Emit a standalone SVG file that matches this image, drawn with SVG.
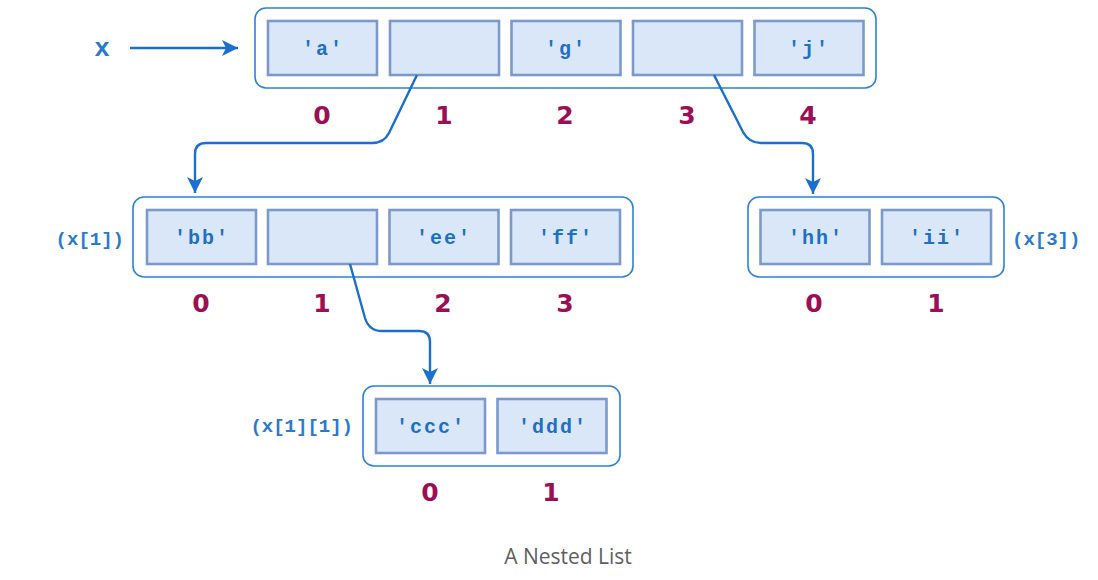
<svg xmlns="http://www.w3.org/2000/svg" width="1098" height="580" viewBox="0 0 1098 580">
<defs>
<style>
.box{fill:#ffffff;stroke:#2b83d8;stroke-width:1.6}
.cell{fill:#dae7f9;stroke:#7b9acb;stroke-width:2.6}
.val{font-family:"Liberation Mono","Courier New",monospace;font-weight:bold;font-size:20px;fill:#1f6fc2;text-anchor:middle;letter-spacing:2px}
.idx{font-family:"DejaVu Sans",Verdana,sans-serif;font-weight:bold;font-size:25px;fill:#9c0f55;text-anchor:middle}
.lbl{font-family:"Liberation Mono","Courier New",monospace;font-weight:bold;font-size:19px;fill:#2a7ad0}
.conn{fill:none;stroke:#1b70cf;stroke-width:2.4}
.cap{font-family:"Open Sans","Noto Sans",sans-serif;font-size:21px;fill:#5f6062;text-anchor:middle}
</style>
<marker id="ah" markerUnits="userSpaceOnUse" markerWidth="20" markerHeight="20" refX="16" refY="8" orient="auto">
<path d="M0,0 L16,8 L0,16 L4,8 Z" fill="#1b70cf"/>
</marker>
</defs>
<rect width="1098" height="580" fill="#ffffff"/>

<g id="var-x">
<text x="102" y="56" class="lbl" style="font-size:26px" text-anchor="middle">x</text>
</g>

<g id="list-x">
<rect class="box" x="255" y="8" width="621" height="80" rx="11"/>
<rect class="cell" x="268" y="21" width="109" height="54"/>
<rect class="cell" x="390" y="21" width="109" height="54"/>
<rect class="cell" x="511.5" y="21" width="109" height="54"/>
<rect class="cell" x="633" y="21" width="109" height="54"/>
<rect class="cell" x="754.5" y="21" width="109" height="54"/>
<text class="val" x="323" y="55">'a'</text>
<text class="val" x="566" y="55">'g'</text>
<text class="val" x="809" y="55">'j'</text>
<text class="idx" x="322" y="124">0</text>
<text class="idx" x="444" y="124">1</text>
<text class="idx" x="565" y="124">2</text>
<text class="idx" x="687" y="124">3</text>
<text class="idx" x="808" y="124">4</text>
</g>

<g id="list-x1">
<text class="lbl" x="124" y="245" text-anchor="end">(x[1])</text>
<rect class="box" x="133" y="197" width="500" height="80" rx="11"/>
<rect class="cell" x="147" y="210" width="109" height="54"/>
<rect class="cell" x="268" y="210" width="109" height="54"/>
<rect class="cell" x="389.5" y="210" width="109" height="54"/>
<rect class="cell" x="511" y="210" width="109" height="54"/>
<text class="val" x="202" y="244">'bb'</text>
<text class="val" x="444" y="244">'ee'</text>
<text class="val" x="566" y="244">'ff'</text>
<text class="idx" x="201" y="312">0</text>
<text class="idx" x="322" y="312">1</text>
<text class="idx" x="443" y="312">2</text>
<text class="idx" x="565" y="312">3</text>
</g>

<g id="list-x3">
<rect class="box" x="748" y="197" width="256" height="80" rx="11"/>
<rect class="cell" x="760.5" y="210" width="109" height="54"/>
<rect class="cell" x="882" y="210" width="109" height="54"/>
<text class="val" x="816" y="244">'hh'</text>
<text class="val" x="937" y="244">'ii'</text>
<text class="lbl" x="1012" y="245">(x[3])</text>
<text class="idx" x="814" y="312">0</text>
<text class="idx" x="936" y="312">1</text>
</g>

<g id="list-x11">
<text class="lbl" x="353" y="432" text-anchor="end">(x[1][1])</text>
<rect class="box" x="363" y="386" width="257" height="80" rx="11"/>
<rect class="cell" x="376" y="399" width="109" height="54"/>
<rect class="cell" x="497.5" y="399" width="109" height="54"/>
<text class="val" x="431" y="433">'ccc'</text>
<text class="val" x="553" y="433">'ddd'</text>
<text class="idx" x="430" y="501">0</text>
<text class="idx" x="551" y="501">1</text>
</g>

<g id="connectors">
<path class="conn" d="M130,48 L238,48" marker-end="url(#ah)"/>
<path class="conn" d="M417,75 L389,133 Q384,143 372,143 L206,143 Q195,143 195,154 L195,193" marker-end="url(#ah)"/>
<path class="conn" d="M714,75 L743,132 Q749,143 761,143 L802,143 Q813,143 813,154 L813,194" marker-end="url(#ah)"/>
<path class="conn" d="M350,264 L365,318 Q369,331 382,331 L419,331 Q430,331 430,342 L430,384" marker-end="url(#ah)"/>
</g>

<text class="cap" x="568" y="564">A Nested List</text>
</svg>
